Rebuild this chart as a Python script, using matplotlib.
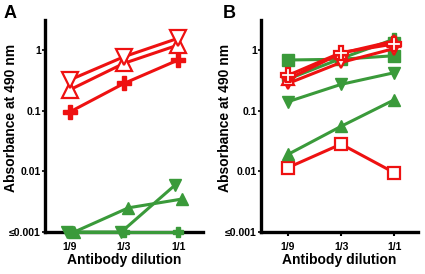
import matplotlib
matplotlib.use("Agg")
import matplotlib.pyplot as plt
import numpy as np

plt.rcParams['font.family'] = ['Liberation Sans', 'DejaVu Sans']

dilutions = ["1/9", "1/3", "1/1"]
ytick_vals = [0.001, 0.01, 0.1, 1]
ytick_labels = ["≤0.001", "0.01", "0.1", "1"]

RED = "#ee1111"
GREEN = "#3a9a3a"

# Panel A series
a_red_down = [0.32, 0.77, 1.55]
a_red_up = [0.22, 0.60, 1.20]
a_red_plus = [0.095, 0.28, 0.68]
a_green_down = [0.001, 0.001, 0.006]
a_green_up = [0.001, 0.0025, 0.0035]
a_green_plus = [0.001, 0.001, 0.001]

# Panel B series
b_red_down = [0.28, 0.62, 1.05]
b_red_up = [0.33, 0.88, 1.40]
b_red_plus = [0.38, 0.90, 1.25]
b_green_plus = [0.33, 0.72, 1.50]
b_green_square = [0.68, 0.70, 0.80]
b_green_down = [0.14, 0.27, 0.42]
b_green_up = [0.019, 0.055, 0.15]
b_red_square = [0.0115, 0.028, 0.0095]

W, H = 425, 274
fig = plt.figure(figsize=(W / 100, H / 100), dpi=100)

def make_ax(left, right, top=20, bottom=232):
    return fig.add_axes([left / W, 1 - bottom / H, (right - left) / W, (bottom - top) / H])

axA = make_ax(45, 203)
axB = make_ax(261, 418)

x = np.arange(len(dilutions))

def plot(ax, vals, color, marker, filled, ms=8, dx=0.0):
    ax.plot(x + dx, vals, color=color, lw=2.2, marker=marker, ms=ms,
            markerfacecolor=color if filled else "white",
            markeredgecolor=color, markeredgewidth=1.6 if not filled else 1.0,
            clip_on=False, zorder=3)

# Panel A
plot(axA, a_green_plus, GREEN, "P", True, ms=7)
plot(axA, a_green_down, GREEN, "v", True, ms=9, dx=-0.05)
plot(axA, a_green_up, GREEN, "^", True, ms=9, dx=0.08)
plot(axA, a_red_plus, RED, "P", True, ms=9.5)
plot(axA, a_red_up, RED, "^", False, ms=11)
plot(axA, a_red_down, RED, "v", False, ms=11)

# Panel B
plot(axB, b_red_square, RED, "s", False, ms=9)
plot(axB, b_green_up, GREEN, "^", True, ms=9)
plot(axB, b_green_down, GREEN, "v", True, ms=9)
plot(axB, b_green_square, GREEN, "s", True, ms=9)
plot(axB, b_green_plus, GREEN, "P", True, ms=9)
plot(axB, b_red_down, RED, "v", False, ms=9)
plot(axB, b_red_up, RED, "^", False, ms=9)
plot(axB, b_red_plus, RED, "P", False, ms=10)

for ax, xlo, xhi, lab_x in [(axA, -0.46, 2.46, -27 / 158), (axB, -0.51, 2.45, -29 / 157)]:
    ax.set_yscale("log")
    ax.set_ylim(0.001, 3.1)
    ax.set_xlim(xlo, xhi)
    ax.set_yticks(ytick_vals)
    ax.set_yticklabels(ytick_labels, fontsize=7.5, fontweight="bold")
    ax.yaxis.set_minor_locator(matplotlib.ticker.NullLocator())
    ax.set_xticks(x)
    ax.set_xticklabels(dilutions, fontsize=7.5, fontweight="bold")
    ax.tick_params(axis="y", length=2, width=1.2, pad=1)
    ax.tick_params(axis="x", length=3, width=1.5, pad=4)
    for s in ["top", "right"]:
        ax.spines[s].set_visible(False)
    for s in ["left", "bottom"]:
        ax.spines[s].set_linewidth(2.4)
    ax.set_ylabel("Absorbance at 490 nm", fontsize=10, fontweight="bold")
    ax.yaxis.set_label_coords(lab_x, 0.54)
    ax.set_xlabel("Antibody dilution", fontsize=10, fontweight="bold", labelpad=1)
    ax.set_facecolor("none")

fig.text(4 / W, 1 - 18 / H, "A", fontsize=13, fontweight="bold", va="baseline")
fig.text(223 / W, 1 - 18 / H, "B", fontsize=13, fontweight="bold", va="baseline")

fig.savefig("out.png", dpi=100)
